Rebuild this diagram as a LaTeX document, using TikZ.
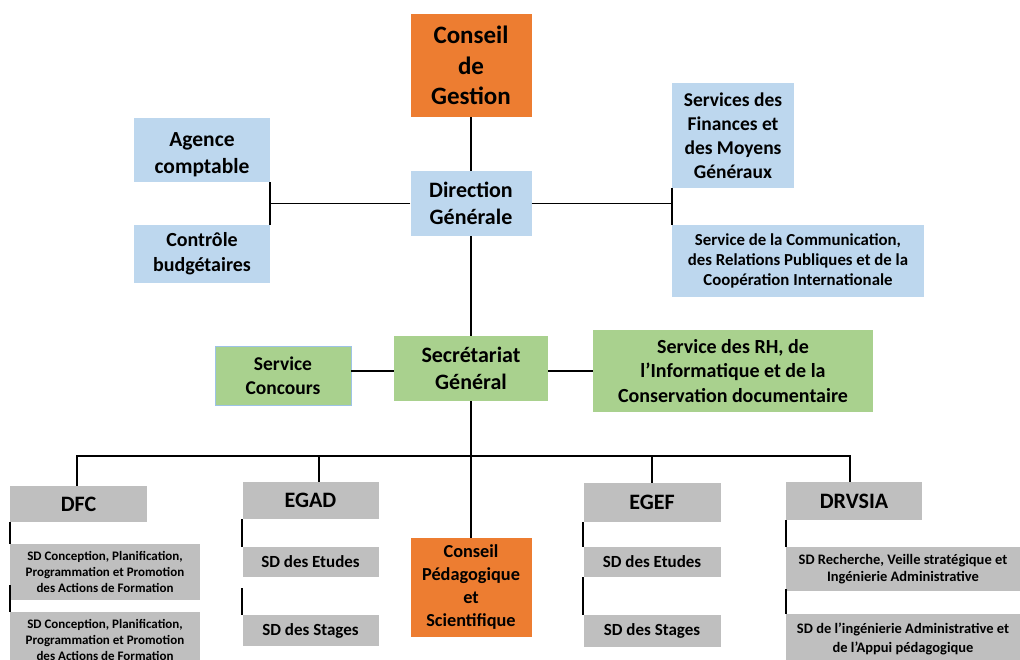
\documentclass[tikz,border=0pt]{standalone}
\usepackage{fontspec}
\setmainfont{Carlito}
\definecolor{corange}{HTML}{ED7D31}
\definecolor{cblue}{HTML}{BDD7EE}
\definecolor{cgreen}{HTML}{A9D18E}
\definecolor{cgray}{HTML}{BFBFBF}
\definecolor{cborder}{HTML}{9DC3E6}
\newcommand{\fsz}[2]{\fontsize{#1}{#2}\selectfont\bfseries}
\tikzset{
  box/.style={inner sep=0pt, align=center, text=black},
  obox/.style={box, fill=corange},
  bbox/.style={box, fill=cblue},
  gbox/.style={box, fill=cgreen},
  ybox/.style={box, fill=cgray},
  conn/.style={line width=1.8pt, black},
}
\begin{document}
\begin{tikzpicture}[x=1pt,y=-1pt]
\useasboundingbox (0,0) rectangle (1020,660);
\clip (0,0) rectangle (1020,660);
% top
\node[obox, minimum width=121pt, minimum height=103pt, font=\fsz{25}{30.5}] (cg) at (471,65.5) {Conseil\\de\\Gestion};
\node[bbox, minimum width=121pt, minimum height=65pt, font=\fsz{22}{27}] (dg) at (471,203.5) {Direction\\Générale};
\node[bbox, minimum width=136pt, minimum height=64pt, font=\fsz{21.5}{27}] (ac) at (202,150) {\rule{0pt}{23pt}Agence\\comptable};
\node[bbox, minimum width=136pt, minimum height=58pt, font=\fsz{20}{25}] (cb) at (202,254) {Contrôle\\budgétaires};
\node[bbox, minimum width=122pt, minimum height=105pt, font=\fsz{19.5}{24}] (sf) at (733,135.5) {Services des\\Finances et\\des Moyens\\Généraux};
\node[bbox, minimum width=252pt, minimum height=72pt, font=\fsz{16.8}{20.3}] (sc) at (798,261) {Service de la Communication,\\des Relations Publiques et de la\\Coopération Internationale};
% middle
\node[gbox, minimum width=154pt, minimum height=65pt, font=\fsz{22}{27}] (sg) at (471,368.5) {Secrétariat\\Général};
\node[gbox, draw=cborder, line width=0.8pt, minimum width=136pt, minimum height=59pt, font=\fsz{19.5}{24}] (scc) at (283,375.5) {Service\\Concours};
\node[gbox, minimum width=280pt, minimum height=82pt, font=\fsz{20}{24.5}] (rh) at (733,371) {Service des RH, de\\l’Informatique et de la\\Conservation documentaire};
% bottom
\node[obox, minimum width=121pt, minimum height=99pt, font=\fsz{18.3}{23}] (cps) at (471,587.5) {Conseil\\Pédagogique\\et\\Scientifique};
\node[ybox, minimum width=137pt, minimum height=36pt, font=\fsz{22}{26}] (dfc) at (78.5,504) {DFC};
\node[ybox, minimum width=190pt, minimum height=56pt, font=\fsz{13}{16}] (dfc1) at (105,572) {SD Conception, Planification,\\Programmation et Promotion\\des Actions de Formation};
\node[ybox, minimum width=190pt, minimum height=56pt, font=\fsz{13}{16}] (dfc2) at (105,640) {SD Conception, Planification,\\Programmation et Promotion\\des Actions de Formation};
\node[ybox, minimum width=136pt, minimum height=37pt, font=\fsz{22}{26}] (egad) at (310.5,500.5) {EGAD};
\node[ybox, minimum width=136pt, minimum height=30pt, font=\fsz{17}{20}] (egad1) at (310.5,562) {SD des Etudes};
\node[ybox, minimum width=136pt, minimum height=31pt, font=\fsz{17}{20}] (egad2) at (310.5,630.5) {SD des Stages};
\node[ybox, minimum width=137pt, minimum height=39pt, font=\fsz{22}{26}] (egef) at (652,502.5) {EGEF};
\node[ybox, minimum width=137pt, minimum height=30pt, font=\fsz{17}{20}] (egef1) at (652,562) {SD des Etudes};
\node[ybox, minimum width=137pt, minimum height=32pt, font=\fsz{17}{20}] (egef2) at (652,631) {SD des Stages};
\node[ybox, minimum width=136pt, minimum height=38pt, font=\fsz{22}{26}] (drv) at (854,501) {DRVSIA};
\node[ybox, minimum width=234pt, minimum height=44pt, font=\fsz{14.5}{17.5}] (drv1) at (903,569) {SD Recherche, Veille stratégique et\\Ingénierie Administrative};
\node[ybox, minimum width=234pt, minimum height=50pt, font=\fsz{14.5}{19.5}] (drv2) at (903,639) {SD de l’ingénierie Administrative et\\de l’Appui pédagogique};
% connectors
\draw[conn] (cg) -- (dg);
\draw[conn] (dg) -- (sg);
\draw[conn] (dg.west) -- (dg.west -| ac.east);
\draw[conn] (ac.south east) -- (cb.north east);
\draw[conn] (dg.east) -- (dg.east -| sf.west);
\draw[conn] (sf.south west) -- (sc.north west);
\draw[conn] ([yshift=-2.5pt]sg.west) -- ([yshift=-2.5pt]sg.west -| scc.east);
\draw[conn] ([yshift=-2.5pt]sg.east) -- ([yshift=-2.5pt]sg.east -| rh.west);
\draw[conn] (sg) -- (cps);
\coordinate (bus) at (471,456);
\draw[conn] ([xshift=-1.5pt]dfc.north) |- (bus) -| ([xshift=-4pt]drv.north);
\draw[conn] ([xshift=8.5pt]egad.north) |- (bus);
\draw[conn] (egef.north) |- (bus);
\draw[conn] (dfc.south west) -- (dfc1.north west);
\draw[conn] ([yshift=15pt]dfc1.south west) -- (dfc2.north west);
\draw[conn] (egad.south west) -- (egad1.north west);
\draw[conn] ([yshift=-11pt]egad1.south west) -- (egad2.north west);
\draw[conn] (egef.south west) -- (egef1.north west);
\draw[conn] (egef1.south west) -- (egef2.north west);
\draw[conn] (drv.south west) -- (drv1.north west);
\draw[conn] ([yshift=2pt]drv1.south west) -- (drv2.north west);
\end{tikzpicture}
\end{document}
